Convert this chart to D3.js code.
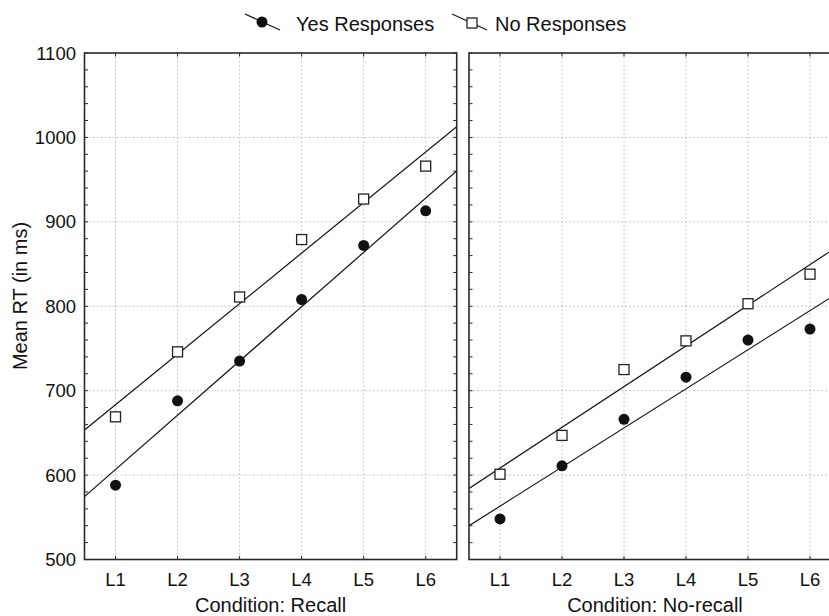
<!DOCTYPE html>
<html>
<head>
<meta charset="utf-8">
<script src="https://cdn.jsdelivr.net/npm/d3@7"></script>
<style>
  html, body { margin: 0; padding: 0; background: #fff; }
  svg { display: block; font-family: "Liberation Sans", Arial, sans-serif; }
</style>
</head>
<body>
<svg id="chart" width="829" height="616"></svg>
<script>
// ---- data ----
const categories = ["L1", "L2", "L3", "L4", "L5", "L6"];
const panelTitles = ["Condition: Recall", "Condition: No-recall"];
const seriesNames = ["Yes Responses", "No Responses"];
const recallYes = [588, 688, 735, 808, 872, 913];
const recallNo = [669, 746, 811, 879, 927, 966];
const noRecallYes = [548, 611, 666, 716, 760, 773];
const noRecallNo = [601, 647, 725, 759, 803, 838];
const yTickLabels = [500, 600, 700, 800, 900, 1000, 1100];
const yTitle = "Mean RT (in ms)";

const panels = [
  { title: panelTitles[0], yes: recallYes, no: recallNo },
  { title: panelTitles[1], yes: noRecallYes, no: noRecallNo }
];

// ---- layout ----
const svg = d3.select("#chart");
const plotTop = 53, plotBottom = 559.5;
const panelX = [[84.5, 456.7], [469, 841]];
const y = d3.scaleLinear().domain([500, 1100]).range([plotBottom, plotTop]);
const frameColor = "#2a2a2a";

function regression(vals) {
  const xs = vals.map((v, i) => i + 1);
  const mx = d3.mean(xs), my = d3.mean(vals);
  const num = d3.sum(xs, (xv, i) => (xv - mx) * (vals[i] - my));
  const den = d3.sum(xs, xv => (xv - mx) ** 2);
  const b = num / den;
  return xv => my + b * (xv - mx);
}

const defs = svg.append("defs");

panels.forEach((p, pi) => {
  const [x0, x1] = panelX[pi];
  const x = d3.scaleLinear().domain([0.5, 6.5]).range([x0, x1]);
  const g = svg.append("g");

  defs.append("clipPath").attr("id", "clip" + pi)
    .append("rect").attr("x", x0).attr("y", plotTop).attr("width", x1 - x0).attr("height", plotBottom - plotTop);

  // grid
  const grid = g.append("g").attr("stroke", "#c8c8c8").attr("stroke-width", 1).attr("stroke-dasharray", "2,2");
  grid.selectAll("line.h").data(yTickLabels.slice(1, -1)).join("line")
    .attr("x1", x0).attr("x2", x1).attr("y1", d => y(d)).attr("y2", d => y(d));
  grid.selectAll("line.v").data(categories).join("line")
    .attr("x1", (d, i) => x(i + 1)).attr("x2", (d, i) => x(i + 1))
    .attr("y1", plotTop).attr("y2", plotBottom);

  // ticks inside frame (every 20 on y)
  const minor = d3.range(500, 1101, 20);
  const tk = g.append("g").attr("stroke", frameColor).attr("stroke-width", 1);
  tk.selectAll("line.l").data(minor).join("line")
    .attr("x1", x0).attr("x2", x0 + 3.5).attr("y1", d => y(d)).attr("y2", d => y(d));
  tk.selectAll("line.r").data(minor).join("line")
    .attr("x1", x1).attr("x2", x1 - 3.5).attr("y1", d => y(d)).attr("y2", d => y(d));
  tk.selectAll("line.t").data(categories).join("line")
    .attr("x1", (d, i) => x(i + 1)).attr("x2", (d, i) => x(i + 1)).attr("y1", plotTop).attr("y2", plotTop + 3.5);
  tk.selectAll("line.b").data(categories).join("line")
    .attr("x1", (d, i) => x(i + 1)).attr("x2", (d, i) => x(i + 1)).attr("y1", plotBottom).attr("y2", plotBottom - 3.5);

  // regression lines
  const lg = g.append("g").attr("clip-path", `url(#clip${pi})`);
  [p.yes, p.no].forEach(vals => {
    const f = regression(vals);
    lg.append("line")
      .attr("x1", x(0.5)).attr("y1", y(f(0.5)))
      .attr("x2", x(6.5)).attr("y2", y(f(6.5)))
      .attr("stroke", "#111").attr("stroke-width", 1.2);
  });

  // markers
  g.selectAll("circle.yes").data(p.yes).join("circle")
    .attr("cx", (d, i) => x(i + 1)).attr("cy", d => y(d)).attr("r", 5.5)
    .attr("fill", "#111");
  g.selectAll("rect.no").data(p.no).join("rect")
    .attr("x", (d, i) => x(i + 1) - 5).attr("y", d => y(d) - 5)
    .attr("width", 10).attr("height", 10)
    .attr("fill", "#fff").attr("stroke", "#222").attr("stroke-width", 1.3);

  // frame
  g.append("rect").attr("x", x0).attr("y", plotTop).attr("width", x1 - x0).attr("height", plotBottom - plotTop)
    .attr("fill", "none").attr("stroke", frameColor).attr("stroke-width", 1.6);

  // x tick labels
  g.selectAll("text.xl").data(categories).join("text")
    .attr("x", (d, i) => x(i + 1)).attr("y", 586)
    .attr("text-anchor", "middle").attr("font-size", 18.5).attr("fill", "#111")
    .text(d => d);

  // axis title
  g.append("text").attr("x", (x0 + x1) / 2).attr("y", 612)
    .attr("text-anchor", "middle").attr("font-size", 20).attr("fill", "#111")
    .text(p.title);

  if (pi === 0) {
    g.selectAll("text.yl").data(yTickLabels).join("text")
      .attr("x", 76).attr("y", d => y(d)).attr("dy", "0.36em")
      .attr("text-anchor", "end").attr("font-size", 18.5).attr("fill", "#111")
      .text(d => d);
  }
});

// y title
svg.append("text")
  .attr("transform", "translate(27,296) rotate(-90)")
  .attr("text-anchor", "middle").attr("font-size", 20).attr("fill", "#111")
  .text(yTitle);

// legend
const leg = svg.append("g");
const legItems = [
  { name: seriesNames[0], lx0: 245, lx1: 280, tx: 296, type: "circle" },
  { name: seriesNames[1], lx0: 452, lx1: 487, tx: 495, type: "square" }
];
legItems.forEach(it => {
  leg.append("line").attr("x1", it.lx0).attr("y1", 14).attr("x2", it.lx1).attr("y2", 30)
    .attr("stroke", "#111").attr("stroke-width", 1.2);
  if (it.type === "circle") {
    leg.append("circle").attr("cx", 262).attr("cy", 22).attr("r", 5.5).attr("fill", "#111");
  } else {
    leg.append("rect").attr("x", 467).attr("y", 18).attr("width", 10).attr("height", 10)
      .attr("fill", "#fff").attr("stroke", "#222").attr("stroke-width", 1.3);
  }
  leg.append("text").attr("x", it.tx).attr("y", 31).attr("font-size", 20).attr("fill", "#111")
    .text(it.name);
});
</script>
</body>
</html>
